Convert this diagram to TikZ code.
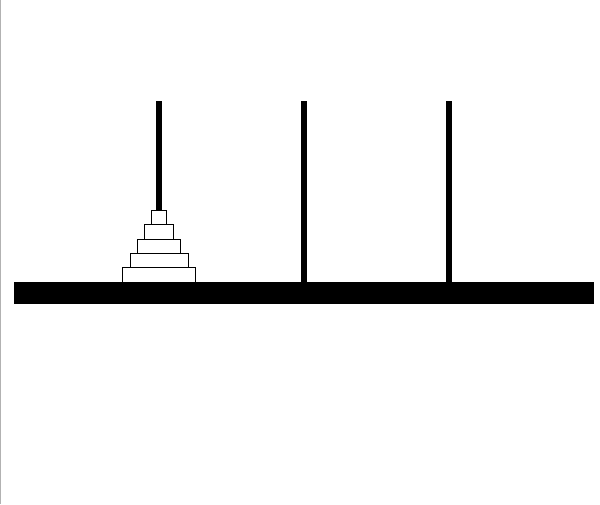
\documentclass[tikz,border=0pt]{standalone}
\begin{document}
\begin{tikzpicture}[x=1pt,y=-1pt,
  peg/.style={fill=black,draw=none},
  disk/.style={fill=white,draw=black,line width=0.6pt}]
\useasboundingbox (0,0) rectangle (600,504);
\fill[white] (0,0) rectangle (600,504);
\draw[gray!60,line width=1.2pt] (0.6,0) -- (0.6,504);
% base
\fill (14,282) rectangle (594,304);
% pegs
\foreach \c in {159,304,449} {
  \fill[peg] (\c-3,101) rectangle (\c+3,282);
}
% disks
\foreach \k/\yb in {5/282,4/267.6,3/253.2,2/238.8,1/224.4} {
  \draw[disk] (159-7.25*\k,\yb) rectangle (159+7.25*\k,\yb-14.4);
}
\end{tikzpicture}
\end{document}
